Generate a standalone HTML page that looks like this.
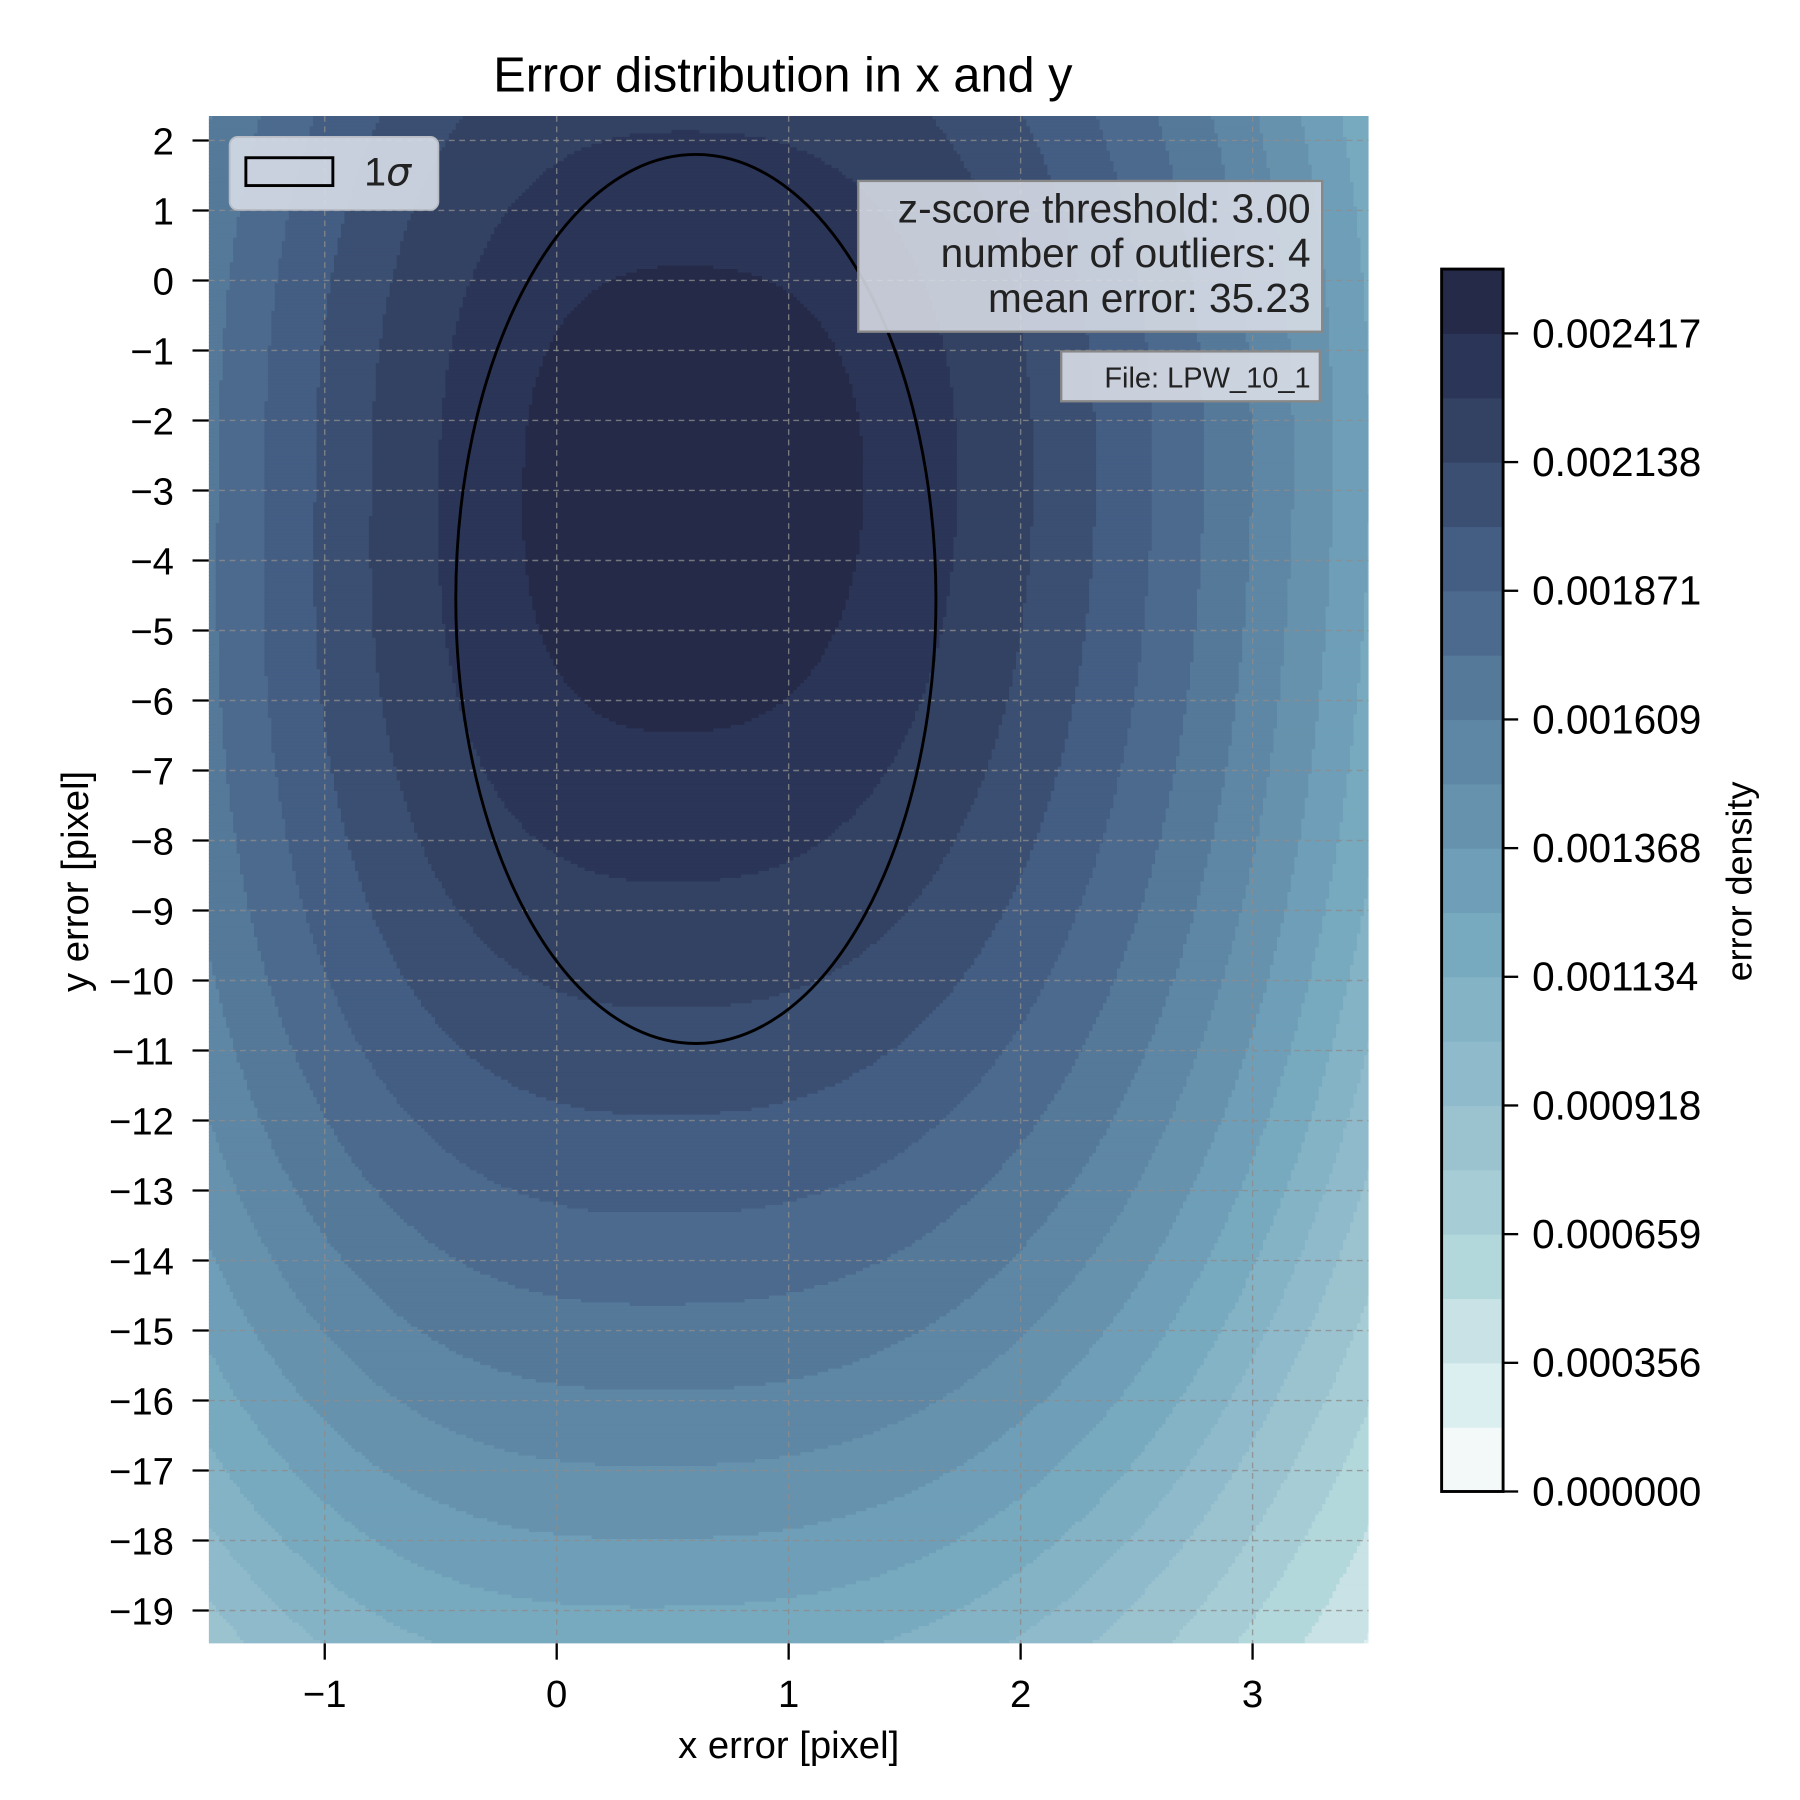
<!DOCTYPE html>
<html><head><meta charset="utf-8"><style>
html,body{margin:0;padding:0;background:#fff;}
svg{display:block;font-family:"Liberation Sans",Arial,sans-serif;}
</style></head><body>
<svg id="chart" width="1800" height="1800" viewBox="0 0 1552 1552" xmlns="http://www.w3.org/2000/svg">
<rect width="1552" height="1552" fill="#fff"/>
<text x="675" y="79" font-size="42" text-anchor="middle">Error distribution in x and y</text>
<defs><clipPath id="plotclip"><rect x="180" y="100" width="1000" height="1317"/></clipPath></defs>
<g id="contours" clip-path="url(#plotclip)"></g>
<g id="grid"></g>
<ellipse id="sigma" fill="none" stroke="#000" stroke-width="2.5"/>
<g id="xaxis"></g>
<g id="yaxis"></g>
<text x="680" y="1516" font-size="33" text-anchor="middle">x error [pixel]</text>
<text transform="translate(76,760) rotate(-90)" font-size="33" text-anchor="middle">y error [pixel]</text>
<g>
<rect x="198" y="118" width="180" height="63" rx="7" fill="#d4dae5" fill-opacity="0.92" stroke="#b8bcc4" stroke-width="1.5"/>
<rect x="212" y="136" width="75" height="24" fill="none" stroke="#000" stroke-width="2.5"/>
<text x="314" y="160" font-size="34" fill="#222">1<tspan font-family="'DejaVu Sans',serif" font-style="italic">σ</tspan></text>
</g>
<g>
<rect x="740" y="156" width="400" height="130" fill="#d8dde6" fill-opacity="0.88" stroke="#888" stroke-width="2"/>
<text x="1130" y="192" font-size="35" text-anchor="end" fill="#222">z-score threshold: 3.00</text>
<text x="1130" y="230" font-size="35" text-anchor="end" fill="#222">number of outliers: 4</text>
<text x="1130" y="269" font-size="35" text-anchor="end" fill="#222">mean error: 35.23</text>
</g>
<g>
<rect x="915" y="303" width="223" height="43" fill="#d8dde6" fill-opacity="0.9" stroke="#888" stroke-width="2"/>
<text x="1130" y="334" font-size="25" text-anchor="end" fill="#222">File: LPW_10_1</text>
</g>
<g id="cbar"></g>
<text transform="translate(1510,760) rotate(-90)" font-size="31" text-anchor="middle">error density</text>
</svg>
<script>
// ---- data ----
const xTicks = [-1, 0, 1, 2, 3];
const yTicks = [2, 1, 0, -1, -2, -3, -4, -5, -6, -7, -8, -9, -10, -11, -12, -13, -14, -15, -16, -17, -18, -19];
const levels = [0, 0.000178, 0.000356, 0.000508, 0.000659, 0.000789, 0.000918, 0.001026, 0.001134, 0.001251, 0.001368, 0.001489, 0.001609, 0.00174, 0.001871, 0.002005, 0.002138, 0.002278, 0.002417, 0.00256];
const cbarTickLabels = ["0.000000", "0.000356", "0.000659", "0.000918", "0.001134", "0.001368", "0.001609", "0.001871", "0.002138", "0.002417"];
const cbarTickValues = [0, 0.000356, 0.000659, 0.000918, 0.001134, 0.001368, 0.001609, 0.001871, 0.002138, 0.002417];
const bandColors = ["#f2f9f8","#dbeef0","#c8e2e5","#b3d8dc","#a6cdd5","#9bc3cf","#8fbacb","#84b3c6","#78aabf","#6f9fb8","#6692ad","#5e86a5","#557999","#4c6a8e","#435d83","#3b4f72","#334263","#2b3557","#252a48"];
const densityPeak = [0.00255];
const densityCenter = [0.55, -2.95];
const densitySpread = [0.95, 1.06, 4.5, 5.0];   // sx left, sx right, sy above, sy below
const densityShape = [0.089, 1.7, 1.5, 0.01, 1.5];   // falloff, x power, y power, center drift, combine power
const sigmaCenter = [0.6, -4.55];
const sigmaRadii = [1.035, 6.35];

// ---- axes ----
const X0=180, X1=1180, Y0=100, Y1=1417;
const xMin=-1.5, xMax=3.5, yMax=2.35, yMin=-19.47;
const sx = v => X0 + (v - xMin) / (xMax - xMin) * (X1 - X0);
const sy = v => Y0 + (yMax - v) / (yMax - yMin) * (Y1 - Y0);
const ix = p => xMin + (p - X0) / (X1 - X0) * (xMax - xMin);
const iy = p => yMax - (p - Y0) / (Y1 - Y0) * (yMax - yMin);
const NS = "http://www.w3.org/2000/svg";
function mk(tag, attrs, parent){ const e=document.createElementNS(NS,tag); for(const k in attrs) e.setAttribute(k,attrs[k]); parent.appendChild(e); return e; }

function density(x,y){
  const dy=y-densityCenter[1];
  const cx=densityCenter[0]+densityShape[3]*Math.min(dy,0);
  const dx=x-cx;
  const sxv = dx<0?densitySpread[0]:densitySpread[1];
  const syv = dy>=0?densitySpread[2]:densitySpread[3];
  const dX=densityShape[0]*Math.pow(Math.abs(dx)/sxv,densityShape[1]);
  const dY=densityShape[0]*Math.pow(Math.abs(dy)/syv,densityShape[2]);
  const q=densityShape[4];
  const def=Math.pow(Math.pow(dX,q)+Math.pow(dY,q),1/q);
  return densityPeak[0]*Math.max(0,1-def);
}
function levelIndex(v){ let i=0; while(i<levels.length-2 && v>=levels[i+1]) i++; return i; }

// contours: run-length cells
const cg=document.getElementById('contours');
const step=3;
function addRun(x0,x1,py,idx){
  const r=mk('rect',{x:x0,y:py,width:x1-x0+0.6,height:step+0.6,fill:bandColors[idx]},cg);
  
  
}
for(let py=Y0; py<Y1; py+=step){
  let runStart=X0, runIdx=-1, px;
  for(px=X0; px<X1; px+=step){
    const idx = levelIndex(density(ix(px+step/2), iy(py+step/2)));
    if(idx!==runIdx){
      if(runIdx>=0) addRun(runStart,px,py,runIdx);
      runStart=px; runIdx=idx;
    }
  }
  addRun(runStart,X1,py,runIdx);
}

// grid + ticks
const gg=document.getElementById('grid'), xa=document.getElementById('xaxis'), ya=document.getElementById('yaxis');
xTicks.forEach(t=>{
  const l=mk('line',{x1:sx(t),x2:sx(t),y1:Y0,y2:Y1,stroke:'#8c8c8c','stroke-width':1.2,'stroke-dasharray':'5,4','stroke-opacity':0.8},gg);
  
  
  mk('line',{x1:sx(t),x2:sx(t),y1:Y1,y2:Y1+14,stroke:'#000','stroke-width':2},xa);
  const tx=mk('text',{x:sx(t),y:1472,'font-size':33,'text-anchor':'middle'},xa);
  tx.textContent = t<0 ? '\u2212'+Math.abs(t) : String(t);
  
  
});
yTicks.forEach(t=>{
  const l=mk('line',{x1:X0,x2:X1,y1:sy(t),y2:sy(t),stroke:'#8c8c8c','stroke-width':1.2,'stroke-dasharray':'5,4','stroke-opacity':0.8},gg);
  
  
  mk('line',{x1:X0-14,x2:X0,y1:sy(t),y2:sy(t),stroke:'#000','stroke-width':2},ya);
  const tx=mk('text',{x:X0-30,y:sy(t)+12,'font-size':33,'text-anchor':'end'},ya);
  tx.textContent = t<0 ? '\u2212'+Math.abs(t) : String(t);
  
  
});

// sigma ellipse
const el=document.getElementById('sigma');
el.setAttribute('cx', sx(sigmaCenter[0]));
el.setAttribute('cy', sy(sigmaCenter[1]));
el.setAttribute('rx', sx(sigmaCenter[0]+sigmaRadii[0])-sx(sigmaCenter[0]));
el.setAttribute('ry', sy(sigmaCenter[1]-sigmaRadii[1])-sy(sigmaCenter[1]));

// colorbar
const cb=document.getElementById('cbar');
const CX0=1243, CX1=1296, CY0=232, CY1=1286;
const nb=bandColors.length, bh=(CY1-CY0)/nb;
bandColors.forEach((c,i)=>{
  const r=mk('rect',{x:CX0,y:CY1-(i+1)*bh,width:CX1-CX0,height:bh+0.5,fill:c},cb);
  
  
});
mk('rect',{x:CX0,y:CY0,width:CX1-CX0,height:CY1-CY0,fill:'none',stroke:'#000','stroke-width':2.5},cb);
const cbY = v => { const i=levels.indexOf(v); return CY1 - i*bh; };
cbarTickValues.forEach((v,k)=>{
  const y=cbY(v);
  mk('line',{x1:CX1,x2:CX1+13,y1:y,y2:y,stroke:'#000','stroke-width':2},cb);
  const tx=mk('text',{x:1321,y:y+12,'font-size':35},cb);
  tx.textContent=cbarTickLabels[k];
  
  
});
</script>
</body></html>
